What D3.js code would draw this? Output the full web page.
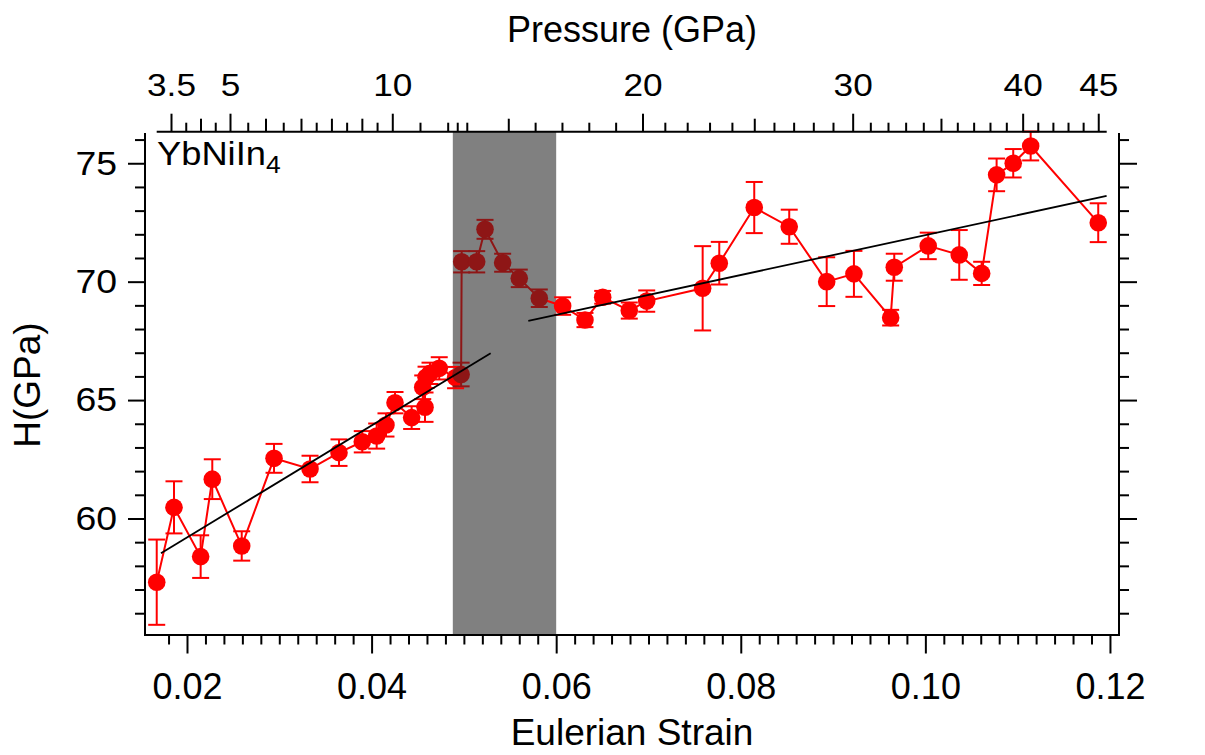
<!DOCTYPE html>
<html><head><meta charset="utf-8">
<script src="https://cdn.jsdelivr.net/npm/d3@7"></script>
<style>
body{margin:0;background:#fff}
svg{display:block}
text{font-family:Arial,"Liberation Sans",Helvetica,sans-serif;fill:#000}
</style>
</head><body>
<svg id="c" width="1205" height="755"></svg>
<script>
// ---------- data ----------
// low-pressure phase (red)
const red1Strain = [0.01672,0.01859,0.02148,0.02274,0.02593,0.02943,0.03333,0.03647,0.03899,0.04055,0.04156,0.04254,0.04434,0.04579,0.04554,0.04590,0.04633,0.04733,0.04910];
const red1H      = [57.31,60.47,58.39,61.66,58.84,62.54,62.09,62.78,63.24,63.48,63.95,64.89,64.26,64.70,65.54,65.96,66.13,66.34,65.95];
const red1Err    = [1.80,1.10,0.90,0.84,0.62,0.61,0.56,0.56,0.45,0.53,0.49,0.45,0.48,0.62,0.50,0.45,0.45,0.47,0.45];
// transition region (dark red)
const darkStrain = [0.04970,0.04976,0.05139,0.05229,0.05420,0.05600,0.05817];
const darkH      = [66.08,70.84,70.84,72.21,70.80,70.14,69.30];
const darkErr    = [0.50,0.45,0.45,0.40,0.38,0.37,0.37];
// high-pressure phase (red)
const red2Strain = [0.06070,0.06312,0.06504,0.06792,0.06981,0.07587,0.07767,0.08146,0.08525,0.08931,0.09226,0.09624,0.09663,0.10031,0.10367,0.10610,0.10772,0.10952,0.11141,0.11873];
const red2H      = [68.97,68.38,69.34,68.78,69.18,69.72,70.78,73.13,72.32,70.00,70.33,68.48,70.61,71.51,71.13,70.35,74.51,75.00,75.73,72.49];
const red2Err    = [0.37,0.30,0.27,0.34,0.45,1.78,0.90,1.08,0.72,1.03,0.97,0.33,0.57,0.56,1.05,0.49,0.69,0.60,0.61,0.82];
// linear fits (strain range, H at ends)
const fitLowStrain  = [0.01718,0.05290];
const fitLowH       = [58.53,66.98];
const fitHighStrain = [0.05698,0.11964];
const fitHighH      = [68.34,73.62];
// shaded transition band (strain)
const bandStrain = [0.0488,0.0600];
// axes
const xDomain = [0.01545,0.12098];
const yDomain = [55.08,76.32];
const xMajor = [0.02,0.04,0.06,0.08,0.10,0.12];
const xMinor = d3.range(9,61).map(i=>i*0.002).filter(v=>Math.abs(v/0.02-Math.round(v/0.02))>1e-6);
const yMajor = [60,65,70,75];
const yMinor = [56,57,58,59,61,62,63,64,66,67,68,69,71,72,73,74,76];
// pressure calibration of the top axis (GPa -> Eulerian strain)
const pressureKnots = [3.5,5,7,10,12,13,15,20,25,30,35,40,45];
const strainKnots   = [0.018267,0.024659,0.032351,0.042243,0.048245,0.050315,0.054811,0.069350,0.081463,0.092124,0.101690,0.110542,0.118732];
const pMajor  = [3.5,5,10,20,30,40,45];
const pMedium = [4.25,6,7,8,9,15,25,35];
const pMinor  = [3.875,4.625,5.5,6.5,7.5,8.5,9.5,11,12,12.5,13,16,17,18,19,21,22,23,24,26,27,28,29,31,32,33,34,36,37,38,39,41,42,43,44];

// ---------- chart ----------
const RED="#ff0000", DARK="#8e1616";
const svg=d3.select("#c");
const L=145,R=1119,T=132,B=635;
const x=d3.scaleLinear().domain(xDomain).range([L,R]);
const y=d3.scaleLinear().domain(yDomain).range([B,T]);
const pX=d3.scaleLinear().domain(pressureKnots).range(strainKnots.map(x));

// band
svg.append("rect").attr("x",x(bandStrain[0])).attr("y",T).attr("width",x(bandStrain[1])-x(bandStrain[0])).attr("height",B-T).attr("fill","#808080");

const zip=(s,h,e)=>s.map((v,i)=>({s:v,h:h[i],e:e[i]}));
const red1=zip(red1Strain,red1H,red1Err), dark=zip(darkStrain,darkH,darkErr), red2=zip(red2Strain,red2H,red2Err);
const line=d3.line().x(d=>x(d.s)).y(d=>y(d.h));

function series(data,color){
  const g=svg.append("g");
  g.append("path").datum(data).attr("d",line).attr("fill","none").attr("stroke",color).attr("stroke-width",2);
  const eb=g.selectAll("g.e").data(data).join("g").attr("stroke",color).attr("stroke-width",2);
  eb.append("line").attr("x1",d=>x(d.s)).attr("x2",d=>x(d.s)).attr("y1",d=>y(d.h-d.e)).attr("y2",d=>y(d.h+d.e));
  eb.append("line").attr("x1",d=>x(d.s)-8.5).attr("x2",d=>x(d.s)+8.5).attr("y1",d=>y(d.h+d.e)).attr("y2",d=>y(d.h+d.e));
  eb.append("line").attr("x1",d=>x(d.s)-8.5).attr("x2",d=>x(d.s)+8.5).attr("y1",d=>y(d.h-d.e)).attr("y2",d=>y(d.h-d.e));
  g.selectAll("circle").data(data).join("circle").attr("cx",d=>x(d.s)).attr("cy",d=>y(d.h)).attr("r",8.8).attr("fill",color);
}
// connector between transition and high-pressure segments
svg.append("path").datum([dark[dark.length-1],red2[0]]).attr("d",line).attr("stroke",RED).attr("stroke-width",2).attr("fill","none");
series(red1,RED);
series(red2,RED);
series(dark,DARK);

// fits
[[fitLowStrain,fitLowH],[fitHighStrain,fitHighH]].forEach(([s,h])=>{
  svg.append("line").attr("x1",x(s[0])).attr("y1",y(h[0])).attr("x2",x(s[1])).attr("y2",y(h[1])).attr("stroke","#000").attr("stroke-width",1.8);
});

// axes
function styleAxis(g,fs){
  g.select(".domain").remove();
  g.selectAll("line").attr("stroke","#000").attr("stroke-width",2);
  g.selectAll("text").attr("font-size",fs).attr("font-family","Arial, 'Liberation Sans', sans-serif").attr("fill","#000");
}
const SX=1.1;
// left
svg.append("g").attr("transform",`translate(${L},0)`).call(d3.axisLeft(y).tickValues(yMajor).tickSize(17).tickPadding(11).tickFormat(d3.format("d")))
  .call(g=>{styleAxis(g,34); g.selectAll("text").attr("x",-28/SX).attr("transform",`scale(${SX},1)`);});
svg.append("g").attr("transform",`translate(${L},0)`).call(d3.axisLeft(y).tickValues(yMinor).tickSize(10).tickFormat("")).call(g=>styleAxis(g,34));
// right
svg.append("g").attr("transform",`translate(${R},0)`).call(d3.axisRight(y).tickValues(yMajor).tickSize(18).tickFormat("")).call(g=>styleAxis(g,34));
svg.append("g").attr("transform",`translate(${R},0)`).call(d3.axisRight(y).tickValues(yMinor).tickSize(10).tickFormat("")).call(g=>styleAxis(g,34));
// bottom
svg.append("g").attr("transform",`translate(0,${B})`).call(d3.axisBottom(x).tickValues(xMajor).tickSize(18.5).tickFormat(d3.format(".2f")))
  .call(g=>{styleAxis(g,36); g.selectAll("text").attr("y",38).attr("dy","0.71em");});
svg.append("g").attr("transform",`translate(0,${B})`).call(d3.axisBottom(x).tickValues(xMinor).tickSize(9.5).tickFormat("")).call(g=>styleAxis(g,36));
// top (pressure)
const TY=131.7;
svg.append("g").attr("transform",`translate(0,${TY})`).call(d3.axisTop(pX).tickValues(pMajor).tickSize(18).tickPadding(17.7).tickFormat(d=>String(d)))
  .call(g=>{styleAxis(g,32); g.selectAll("text").attr("transform",`scale(${SX},1)`);});
svg.append("g").attr("transform",`translate(0,${TY})`).call(d3.axisTop(pX).tickValues(pMedium).tickSize(13).tickFormat("")).call(g=>styleAxis(g,32));
svg.append("g").attr("transform",`translate(0,${TY})`).call(d3.axisTop(pX).tickValues(pMinor).tickSize(9).tickFormat("")).call(g=>styleAxis(g,32));

// frame lines
const fr=svg.append("g").attr("stroke","#000").attr("stroke-width",2).attr("fill","none");
fr.append("path").attr("d",`M${L},133V${B+1}`);
fr.append("path").attr("d",`M${L},${B}H${R}`);
fr.append("path").attr("d",`M${R},133V${B+1}`);
fr.append("path").attr("d",`M156.7,${TY}H1106.7`);

// titles
svg.append("text").attr("x",(L+R)/2).attr("y",42).attr("text-anchor","middle").attr("font-size",36).text("Pressure (GPa)");
svg.append("text").attr("x",(L+R)/2).attr("y",745).attr("text-anchor","middle").attr("font-size",37).text("Eulerian Strain");
svg.append("text").attr("transform","translate(40,385) rotate(-90)").attr("text-anchor","middle").attr("font-size",37).text("H(GPa)");
const lab=svg.append("text").attr("transform",`translate(157,165) scale(${SX},1)`).attr("font-size",33);
lab.append("tspan").text("YbNiIn");
lab.append("tspan").attr("font-size",24).attr("dy",8).text("4");
</script>
</body></html>
